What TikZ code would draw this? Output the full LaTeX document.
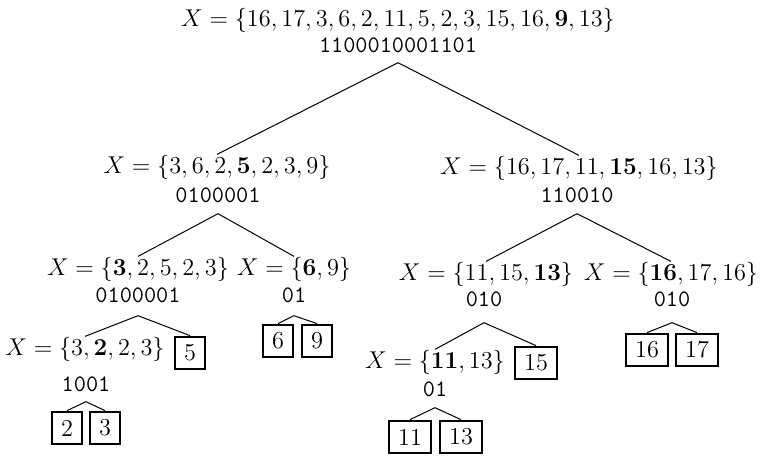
\RequirePackage{fix-cm}
\documentclass[tikz,border=0pt]{standalone}
\begin{document}
\begin{tikzpicture}[x=0.5pt,y=-0.5pt,
  formula/.style={inner sep=0pt,anchor=base,font=\fontsize{12.15}{14}\selectfont},
  bits/.style={inner sep=0pt,anchor=base,font=\fontsize{11.8}{14}\selectfont\ttfamily},
  leaf/.style={draw,line width=1.4pt,inner sep=0pt,minimum height=16pt,minimum width=15pt,font=\fontsize{12.15}{14}\selectfont},
  leafw/.style={leaf,minimum width=21pt},
  edge/.style={line width=0.5pt}]
\useasboundingbox (0,0) rectangle (761,457);
% root
\node[formula] (r) at (398,26) {$X=\{16,17,3,6,2,11,5,2,3,15,16,\mathbf{9},13\}$};
\node[bits] (rb) at (398,52) {1100010001101};
% level 1
\node[formula] (l) at (217,173) {$X=\{3,6,2,\mathbf{5},2,3,9\}$};
\node[bits] (lb) at (218,202) {0100001};
\node[formula] (q) at (579,174) {$X=\{16,17,11,\mathbf{15},16,13\}$};
\node[bits] (qb) at (577,202) {110010};
% level 2
\node[formula] (ll) at (138,275) {$X=\{\mathbf{3},2,5,2,3\}$};
\node[bits] (llb) at (138,302) {0100001};
\node[formula] (lr) at (294,275) {$X=\{\mathbf{6},9\}$};
\node[bits] (lrb) at (294,302) {01};
\node[formula] (ql) at (486,280) {$X=\{11,15,\mathbf{13}\}$};
\node[bits] (qlb) at (484,306) {010};
\node[formula] (qr) at (671,280) {$X=\{\mathbf{16},17,16\}$};
\node[bits] (qrb) at (672,306) {010};
% level 3
\node[formula] (lll) at (85,355) {$X=\{3,\mathbf{2},2,3\}$};
\node[bits] (lllb) at (86,391) {1001};
\node[leaf] (b5) at (190,353) {5};
\node[leaf] (b6) at (278,341) {6};
\node[leaf] (b9) at (317,341) {9};
\node[formula] (qll) at (435,368) {$X=\{\mathbf{11},13\}$};
\node[bits] (qllb) at (435,396) {01};
\node[leafw] (b15) at (536,363) {15};
\node[leafw] (b16) at (647,350) {16};
\node[leafw] (b17) at (697,350) {17};
% level 4
\node[leaf] (b2) at (67,428) {2};
\node[leaf] (b3) at (105,428) {3};
\node[leafw] (b11) at (410,437) {11};
\node[leafw] (b13) at (461,437) {13};
% connectors
\draw[edge] (l.north) -- ([yshift=-5pt]rb.south) -- (q.north);
\draw[edge] (ll.north) -- ([yshift=-5.5pt]lb.south) -- (lr.north);
\draw[edge] (ql.north) -- ([yshift=-5.5pt]qb.south) -- (qr.north);
\draw[edge] (lll.north) -- ([yshift=-6.5pt]llb.south) -- (b5.north);
\draw[edge] (b6.north) -- ([yshift=-6.5pt]lrb.south) -- (b9.north);
\draw[edge] (qll.north) -- ([yshift=-8pt]qlb.south) -- (b15.north);
\draw[edge] (b16.north) -- ([yshift=-8pt]qrb.south) -- (b17.north);
\draw[edge] (b2.north) -- ([yshift=-5pt]lllb.south) -- (b3.north);
\draw[edge] (b11.north) -- ([yshift=-5.5pt]qllb.south) -- (b13.north);
\end{tikzpicture}
\end{document}
